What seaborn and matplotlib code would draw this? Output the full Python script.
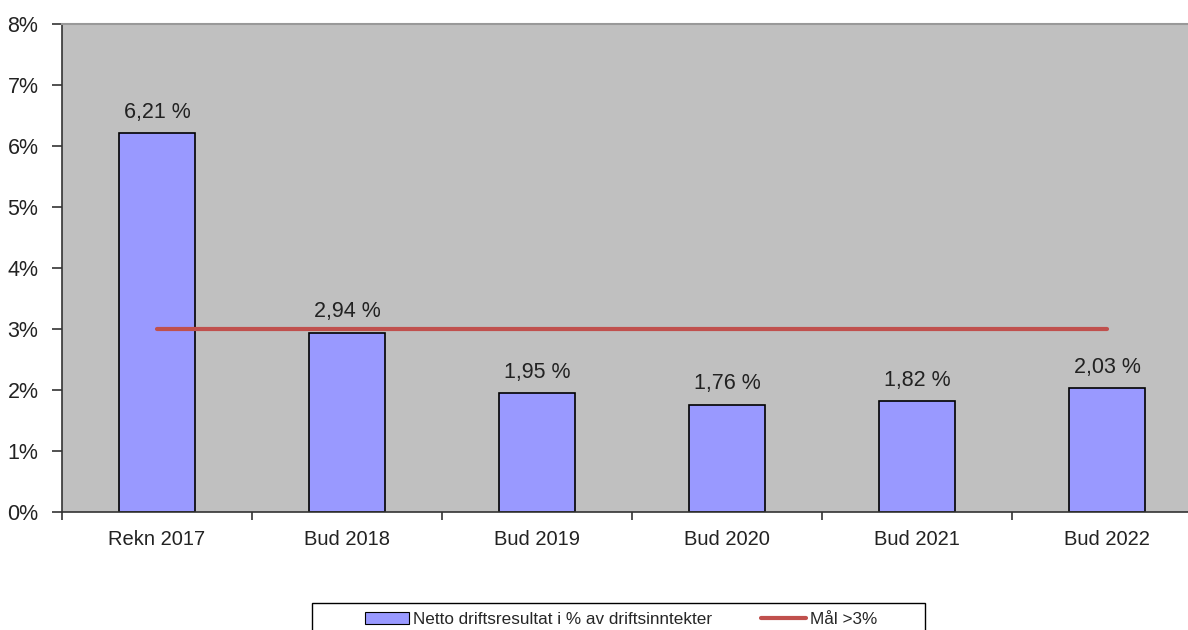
import matplotlib
matplotlib.use('Agg')
import matplotlib.pyplot as plt
import seaborn as sns
import pandas as pd
from matplotlib.patches import Patch, Rectangle
from matplotlib.lines import Line2D
from matplotlib.ticker import FixedLocator

categories = ['Rekn 2017', 'Bud 2018', 'Bud 2019', 'Bud 2020', 'Bud 2021', 'Bud 2022']
netto = [6.21, 2.94, 1.95, 1.76, 1.82, 2.03]
maal = [3, 3, 3, 3, 3, 3]
yticks = [0, 1, 2, 3, 4, 5, 6, 7, 8]

sns.set_style('white')
plt.rcParams['font.family'] = ['Liberation Sans', 'DejaVu Sans']

df = pd.DataFrame({'kategori': categories, 'netto': netto, 'maal': maal})

fig = plt.figure(figsize=(11.88, 6.3), dpi=100)
ax = fig.add_axes([62/1188, 118/630, 1140/1188, 488/630])
ax.set_facecolor('#C0C0C0')

bar_color = '#9999FF'
line_color = '#C0504D'
sns.barplot(data=df, x='kategori', y='netto', color=bar_color, width=0.4,
            edgecolor='black', linewidth=1.2, saturation=1, ax=ax)
ax.plot(df['kategori'], df['maal'], color=line_color, linewidth=3, zorder=3)

for i, v in enumerate(netto):
    ax.text(i, v + 0.17, f'{v:.2f} %'.replace('.', ','), ha='center', va='bottom',
            fontsize=15.5, color='#222222')

ax.set_ylim(0, 8)
ax.set_xlim(-0.5, 5.5)
ax.set_yticks(yticks)
ax.set_yticklabels([f'{t}%' for t in yticks], fontsize=15.5, color='#222222')
ax.set_xticklabels(categories, fontsize=14.5, color='#222222')
ax.set_xlabel('')
ax.set_ylabel('')
ax.xaxis.set_minor_locator(FixedLocator([i + 0.5 for i in range(-1, 6)]))
ax.tick_params(axis='x', which='major', length=0, pad=13)
ax.tick_params(axis='x', which='minor', length=6, width=1.2, color='#333333', direction='out', bottom=True)
ax.tick_params(axis='y', length=7, width=1.2, color='#333333', direction='out', left=True, pad=10)

for s in ['left', 'bottom']:
    ax.spines[s].set_color('#333333')
    ax.spines[s].set_linewidth(1.2)
ax.spines['top'].set_visible(True)
ax.spines['top'].set_color('#999999')
ax.spines['top'].set_linewidth(1.5)
ax.spines['right'].set_visible(False)

# legend box (cut off at the bottom edge like the reference)
fig.patches.append(Rectangle((312/1188, -0.05), 613/1188, 0.05 + 27/630,
                             transform=fig.transFigure, fill=False,
                             edgecolor='black', linewidth=1))
handles = [Patch(facecolor=bar_color, edgecolor='black', linewidth=0.8),
           Line2D([0], [0], color=line_color, linewidth=3)]
labels = ['Netto driftsresultat i % av driftsinntekter', 'Mål >3%']
fig.legend(handles, labels, loc='center', bbox_to_anchor=(621/1188, 1 - 619/630),
           ncol=2, fontsize=12.3, frameon=False, handlelength=2.6,
           handletextpad=0.25, columnspacing=2.85, borderpad=0)

fig.savefig('out.png', dpi=100)
